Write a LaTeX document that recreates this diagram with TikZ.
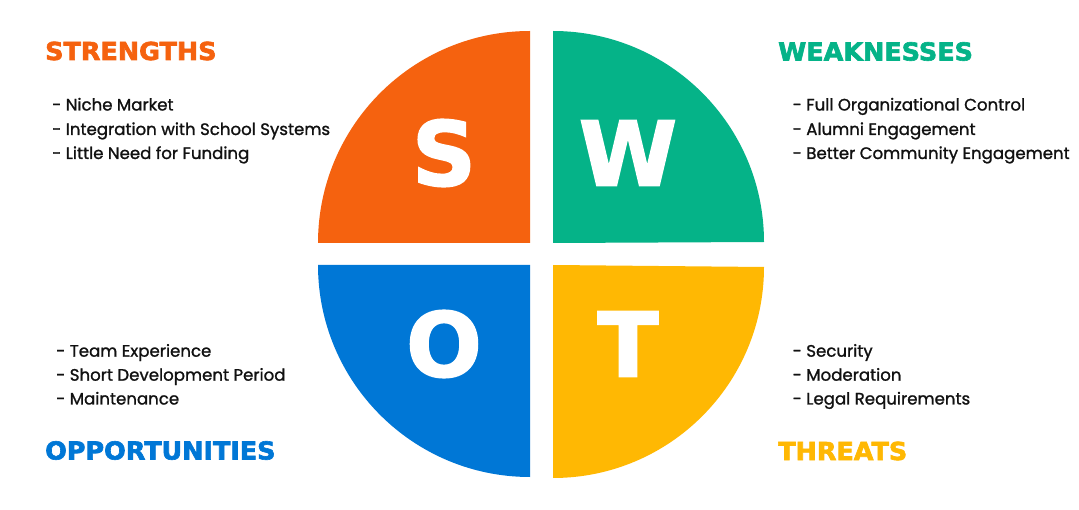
\documentclass[tikz,border=0pt]{standalone}
\usepackage{fontspec}
\setmainfont{Poppins}[FakeBold=1.2]
\newfontfamily\headfont{DejaVu Sans}[BoldFont=* Bold,BoldFeatures={FakeBold=2.5}]
\newfontfamily\letterfont{DejaVu Sans}[BoldFont=* Bold,BoldFeatures={FakeBold=2}]
\definecolor{sorange}{HTML}{F5620F}
\definecolor{sgreen}{HTML}{05B388}
\definecolor{sblue}{HTML}{0077D6}
\definecolor{syellow}{HTML}{FFB803}
\definecolor{stext}{HTML}{111111}
\begin{document}
\begin{tikzpicture}[x=1pt,y=1pt,
  title/.style={anchor=base west,inner sep=0pt,xscale=1.03,font=\headfont\bfseries\fontsize{24.7}{26}\selectfont},
  item/.style={anchor=base west,inner sep=0pt,text=stext,font=\fontsize{16.6}{18}\selectfont},
  letter/.style={inner sep=0pt,text=white,font=\letterfont\bfseries\fontsize{89}{90}\selectfont}]
\useasboundingbox[fill=white] (0,0) rectangle (1079,509);
% quadrants
\fill[sorange] (530,266) -- (318,266) arc[start angle=180,end angle=90,radius=212] -- cycle;
\fill[sgreen] (553,266) -- (553,478) arc[start angle=90,end angle=0,radius=211] -- cycle;
\fill[sblue] (530,244) -- (318,244) arc[start angle=180,end angle=270,radius=212] -- cycle;
\fill[syellow] (553,244) -- (553,31) arc[start angle=270,end angle=360,radius=211] -- cycle;
% letters
\node[letter] (ls) at (444,356) {S};
\node[letter] (lw) at (628,356) {W};
\node[letter] (lo) at (444,165) {O};
\node[letter] (lt) at (628,165) {T};
% titles
\node[title,text=sorange] (ts) at (45,449) {STRENGTHS};
\node[title,text=sgreen] (tw) at (778,448.5) {WEAKNESSES};
\node[title,text=sblue] (to) at (45,49.5) {OPPORTUNITIES};
\node[title,text=syellow] (tt) at (778,49) {THREATS};
% strengths
\node[item] (s1) at (52,398.5) {- Niche Market};
\node[item] (s2) at (52,374) {- Integration with School Systems};
\node[item] (s3) at (52,350) {- Little Need for Funding};
% weaknesses
\node[item] (w1) at (792.5,398.5) {- Full Organizational Control};
\node[item] (w2) at (792.5,374) {- Alumni Engagement};
\node[item] (w3) at (792.5,350) {- Better Community Engagement};
% opportunities
\node[item] (o1) at (56,152.3) {- Team Experience};
\node[item] (o2) at (56,128.3) {- Short Development Period};
\node[item] (o3) at (56,104.5) {- Maintenance};
% threats
\node[item] (t1) at (792.5,152.3) {- Security};
\node[item] (t2) at (792.5,128.3) {- Moderation};
\node[item] (t3) at (792.5,104.5) {- Legal Requirements};
\end{tikzpicture}
\end{document}
